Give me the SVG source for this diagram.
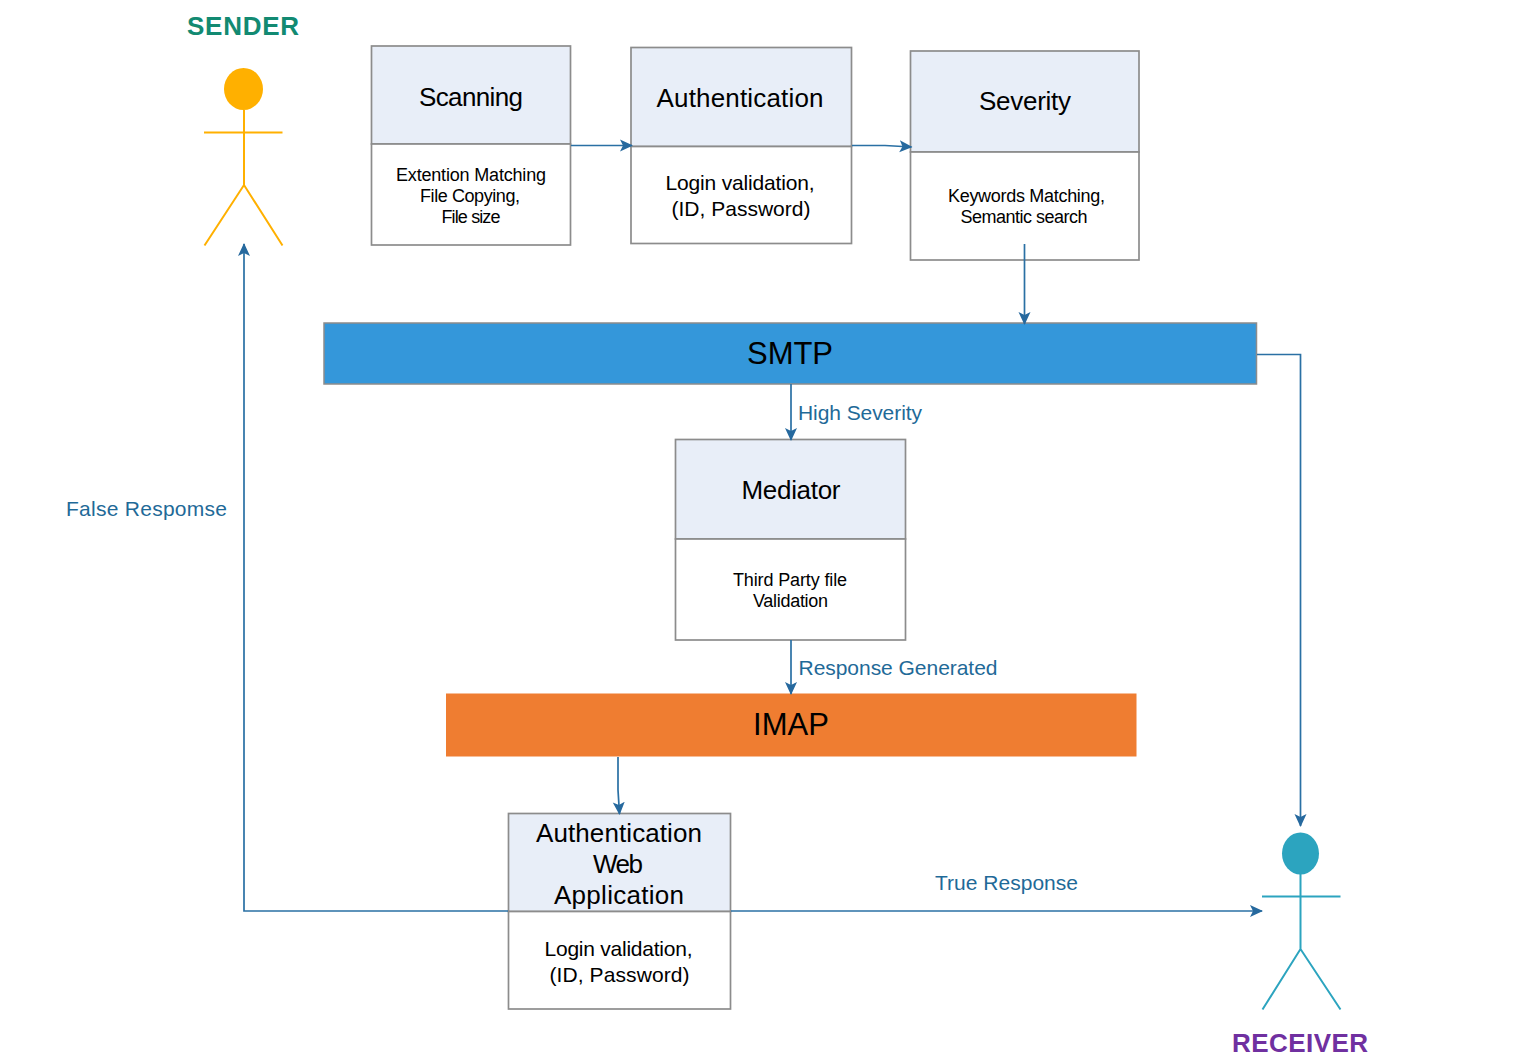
<svg xmlns="http://www.w3.org/2000/svg" width="1517" height="1059" viewBox="0 0 1517 1059">
<style>
text{font-family:"Liberation Sans",Arial,sans-serif;text-anchor:middle;fill:#000}
.hd{fill:#e8eef8;stroke:#8c8c8c;stroke-width:1.700}
.bd{fill:#fff;stroke:#8c8c8c;stroke-width:1.700}
.t{font-size:26px}.s{font-size:18px}.m{font-size:21px}.b{font-size:31px}
.lb{font-size:21px;fill:#1f6a98;text-anchor:start}
.c{fill:none;stroke:#2a70a4;stroke-width:1.700;marker-end:url(#a)}
.act{fill:none;stroke-width:2}
.r{font-size:26px;font-weight:bold}
</style>
<defs><marker id="a" viewBox="0 0 14 14" refX="12" refY="7" markerWidth="14" markerHeight="14" markerUnits="userSpaceOnUse" orient="auto"><path d="M0 1L13 7L0 13L3 7Z" fill="#26699e"/></marker></defs>
<g id="sender"><text class="r" x="243" y="35" style="fill:#128a72" textLength="112">SENDER</text>
<ellipse cx="243.500" cy="89" rx="19.500" ry="21" fill="#ffb000"/><path class="act" stroke="#ffb000" d="M244 110V185M204 132.500H282.500M204.500 245.500L244 185L282.500 245.500"/></g>
<g id="scanning"><rect class="hd" x="371.500" y="46" width="199" height="98"/><rect class="bd" x="371.500" y="144" width="199" height="101"/>
<text class="t" x="471" y="106" textLength="104">Scanning</text><text class="s" x="471" y="181" textLength="150">Extention Matching</text><text class="s" x="470" y="202" textLength="100">File Copying,</text><text class="s" x="471" y="223" textLength="59">File size</text></g>
<g id="authentication"><rect class="hd" x="631" y="47.500" width="220.500" height="99"/><rect class="bd" x="631" y="146.500" width="220.500" height="97"/>
<text class="t" x="740" y="107" textLength="167">Authentication</text><text class="m" x="740" y="190" textLength="149">Login validation,</text><text class="m" x="741" y="216" textLength="139">(ID, Password)</text></g>
<g id="severity"><rect class="hd" x="910.500" y="51" width="228.500" height="101"/><rect class="bd" x="910.500" y="152" width="228.500" height="108"/>
<text class="t" x="1025" y="110" textLength="92">Severity</text><text class="s" x="1026.500" y="202" textLength="157">Keywords Matching,</text><text class="s" x="1024" y="223" textLength="127">Semantic search</text></g>
<g id="smtp"><rect x="324" y="323" width="932.500" height="61" fill="#3497da" stroke="#8c8c8c" stroke-width="1.500"/><text class="b" x="790" y="364" textLength="86">SMTP</text></g>
<g id="mediator"><rect class="hd" x="675.500" y="439.500" width="230" height="99.500"/><rect class="bd" x="675.500" y="539" width="230" height="101"/>
<text class="t" x="791" y="499" textLength="99">Mediator</text><text class="s" x="790" y="586" textLength="114">Third Party file</text><text class="s" x="790.500" y="607" textLength="75">Validation</text></g>
<g id="imap"><rect x="446" y="693.500" width="690.500" height="63" fill="#ef7d31"/><text class="b" x="791" y="735" textLength="76">IMAP</text></g>
<g id="webapp"><rect class="hd" x="508.500" y="813.500" width="222" height="98"/><rect class="bd" x="508.500" y="911.500" width="222" height="97.500"/>
<text class="t" x="619" y="842" textLength="166">Authentication</text><text class="t" x="618" y="873" textLength="50">Web</text><text class="t" x="619" y="904" textLength="130">Application</text><text class="m" x="618.500" y="956" textLength="148">Login validation,</text><text class="m" x="619.500" y="982" textLength="140">(ID, Password)</text></g>
<g id="receiver"><ellipse cx="1300.500" cy="853.500" rx="18.500" ry="21" fill="#2ca4bf"/><path class="act" stroke="#2ca4bf" d="M1300.500 874V949M1262 896.500H1340.500M1262.500 1009.500L1300.500 949L1340.500 1009.500"/>
<text class="r" x="1300" y="1052" style="fill:#7030a0" textLength="136">RECEIVER</text></g>
<g id="connectors">
<path class="c" d="M571 145.500H632"/><path class="c" d="M852 145.500H885L911.500 147"/><path class="c" d="M1024.500 244V324"/>
<path class="c" d="M1257 354.500H1300.500V826"/><path class="c" d="M791 384V440"/><path class="c" d="M791 640V694"/>
<path class="c" d="M618 757V790L619.500 814"/>
<path class="c" d="M508 911H244V244"/><path class="c" d="M731 911H1262"/>
</g>
<g id="labels"><text class="lb" x="798" y="420" textLength="124">High Severity</text><text class="lb" x="66" y="516" textLength="161">False Respomse</text><text class="lb" x="798.500" y="675" textLength="199">Response Generated</text><text class="lb" x="935" y="890" textLength="143">True Response</text></g>
</svg>
